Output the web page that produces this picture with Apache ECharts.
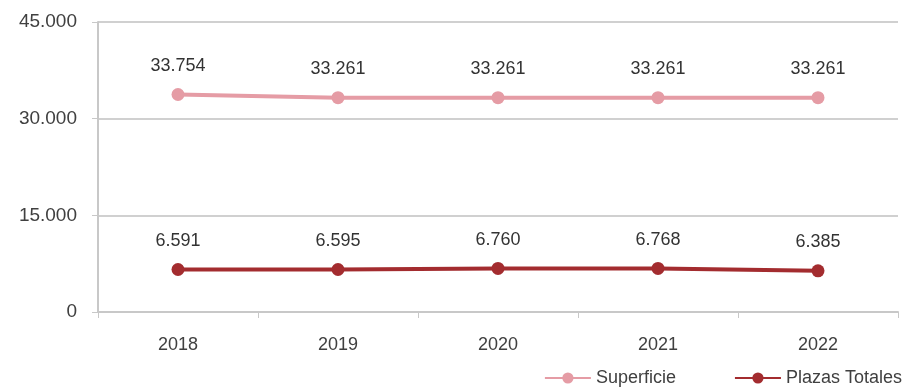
<!DOCTYPE html>
<html><head><meta charset="utf-8">
<script src="https://cdn.jsdelivr.net/npm/echarts@6/dist/echarts.min.js"></script>
<style>html,body{margin:0;padding:0;background:#fff}#c{width:909px;height:392px}</style>
</head><body><div id="c"></div>
<script>
const categories = ['2018','2019','2020','2021','2022'];
const superficie = [33754, 33261, 33261, 33261, 33261];
const plazasTotales = [6591, 6595, 6760, 6768, 6385];
const yTicks = [0, 15000, 30000, 45000];

function fmt(v){ return String(v).replace(/\B(?=(\d{3})+(?!\d))/g, '.'); }

const chart = echarts.init(document.getElementById('c'));
const font = '"Liberation Sans", "DejaVu Sans", sans-serif';
chart.setOption({
  animation: false,
  grid: {left: 98, right: 11, top: 22, bottom: 80},
  legend: {
    bottom: 0, right: 2, itemWidth: 46, itemHeight: 14, itemGap: 58,
    textStyle: {fontSize: 18, color: '#404040', fontFamily: font},
    data: ['Superficie', 'Plazas Totales']
  },
  xAxis: {
    type: 'category', data: categories, boundaryGap: true,
    axisLine: {lineStyle: {color: '#c8c8c8', width: 2}},
    axisTick: {show: true, length: 6, lineStyle: {color: '#c8c8c8', width: 1}},
    axisLabel: {fontSize: 18, color: '#404040', margin: 24, fontFamily: font}
  },
  yAxis: {
    type: 'value', min: yTicks[0], max: yTicks[yTicks.length-1], interval: 15000,
    axisLine: {show: true, lineStyle: {color: '#c8c8c8', width: 2}},
    axisTick: {show: true, length: 6, lineStyle: {color: '#c8c8c8'}},
    splitLine: {lineStyle: {color: '#d0d0d0', width: 2}},
    axisLabel: {fontSize: 19, color: '#404040', margin: 21, fontFamily: font, formatter: v => fmt(v)}
  },
  series: [
    {
      name: 'Superficie', type: 'line', data: superficie,
      symbol: 'circle', symbolSize: 13,
      itemStyle: {color: '#E59CA5'},
      lineStyle: {color: '#E59CA5', width: 4},
      label: {show: true, position: 'top', distance: 13, fontSize: 18, color: '#333', fontFamily: font, formatter: p => fmt(p.value)}
    },
    {
      name: 'Plazas Totales', type: 'line', data: plazasTotales,
      symbol: 'circle', symbolSize: 13,
      itemStyle: {color: '#A32C2F'},
      lineStyle: {color: '#A32C2F', width: 4},
      label: {show: true, position: 'top', distance: 13, fontSize: 18, color: '#333', fontFamily: font, formatter: p => fmt(p.value)}
    }
  ]
});
</script></body></html>
